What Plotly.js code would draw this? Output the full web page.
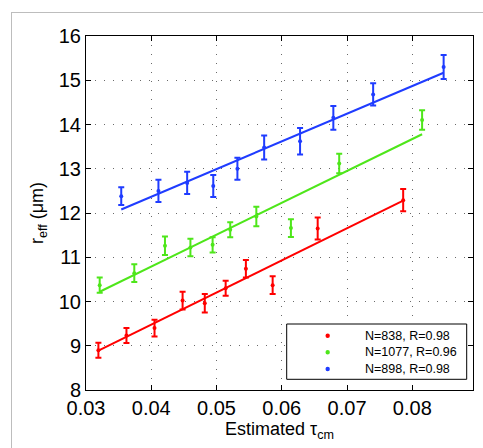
<!DOCTYPE html>
<html>
<head>
<meta charset="utf-8">
<script src="https://cdn.plot.ly/plotly-3.0.1.min.js"></script>
<style>
html,body{margin:0;padding:0;background:#fff;overflow:hidden;}
#frame{position:absolute;left:11px;top:12px;width:600px;height:600px;border-left:1px solid #bdbdbd;border-top:1px solid #bdbdbd;}
#chart{position:absolute;left:0;top:0;width:483px;height:448px;}
</style>
</head>
<body>
<div id="frame"></div>
<div id="chart"></div>
<script>
// Red series (N=838)
const redX = [0.0319,0.0362,0.0405,0.0448,0.0482,0.0514,0.0545,0.0586,0.0655,0.0786];
const redY = [8.90,9.23,9.40,10.02,9.96,10.30,10.74,10.37,11.65,12.29];
const redErr = [0.17,0.17,0.19,0.20,0.21,0.17,0.20,0.20,0.25,0.25];
const redFitX = [0.0319,0.0786];
const redFitY = [8.89,12.28];
// Green series (N=1077)
const greenX = [0.0321,0.0374,0.0421,0.0460,0.0494,0.0521,0.0561,0.0614,0.0688,0.0815];
const greenY = [10.37,10.64,11.26,11.22,11.28,11.62,11.92,11.66,13.12,14.10];
const greenErr = [0.17,0.20,0.21,0.20,0.17,0.17,0.22,0.20,0.22,0.22];
const greenFitX = [0.0321,0.0815];
const greenFitY = [10.22,13.78];
// Blue series (N=898)
const blueX = [0.0354,0.0411,0.0455,0.0495,0.0532,0.0573,0.0628,0.0679,0.0740,0.0848];
const blueY = [12.38,12.50,12.68,12.61,13.00,13.48,13.62,14.15,14.68,15.30];
const blueErr = [0.20,0.25,0.25,0.25,0.25,0.27,0.30,0.27,0.25,0.27];
const blueFitX = [0.0354,0.0848];
const blueFitY = [12.08,15.17];

const names = ['N=838, R=0.98','N=1077, R=0.96','N=898, R=0.98'];
const colors = ['#ff0000','#4ee61a','#1f3cff'];
const xTicks = [0.03,0.04,0.05,0.06,0.07,0.08];
const xTickText = ['0.03','0.04','0.05','0.06','0.07','0.08'];
const yTicks = [8,9,10,11,12,13,14,15,16];

function pts(x,y,e,i){
  return {x:x,y:y,type:'scatter',mode:'markers',name:names[i],showlegend:false,
    marker:{color:colors[i],size:4},
    error_y:{type:'data',array:e,visible:true,color:colors[i],thickness:2,width:3}};
}
function fit(x,y,i){
  return {x:x,y:y,type:'scatter',mode:'lines',showlegend:false,hoverinfo:'skip',
    line:{color:colors[i],width:2}};
}
const data = [
  fit(redFitX,redFitY,0), fit(greenFitX,greenFitY,1), fit(blueFitX,blueFitY,2),
  pts(redX,redY,redErr,0), pts(greenX,greenY,greenErr,1), pts(blueX,blueY,blueErr,2)
];
const font = {family:'"Liberation Sans", Arial, sans-serif',color:'#000'};

// legend box (paper coordinates) and entries
const legRowY = [0.1534,0.1065,0.0593];
const shapes = [{type:'rect',xref:'paper',yref:'paper',x0:0.5186,x1:0.9837,y0:0.0302,y1:0.1864,
    line:{color:'#000',width:1},fillcolor:'#fff',layer:'above'}];
const annotations = [];
names.forEach((n,i)=>{
  shapes.push({type:'circle',xref:'paper',yref:'paper',xsizemode:'pixel',ysizemode:'pixel',
    xanchor:0.6245,yanchor:legRowY[i],x0:-2.2,x1:2.2,y0:-2.2,y1:2.2,
    fillcolor:colors[i],line:{width:0},layer:'above'});
  annotations.push({xref:'paper',yref:'paper',x:0.715,y:legRowY[i],xanchor:'left',yanchor:'middle',
    text:n,showarrow:false,font:{family:font.family,size:12.5,color:'#000'}});
});

const layout = {
  width:483,height:448,
  margin:{l:86,r:10,t:36,b:58},
  paper_bgcolor:'rgba(0,0,0,0)',plot_bgcolor:'#fff',
  font:font,
  showlegend:false,
  shapes:shapes,
  annotations:annotations,
  xaxis:{range:[0.03,0.0893],tickvals:xTicks,ticktext:xTickText,
    ticks:'inside',ticklen:5,tickcolor:'#000',mirror:'ticks',
    showline:true,linecolor:'#000',linewidth:1,
    showgrid:true,gridcolor:'#6a6a6a',gridwidth:1,griddash:'1px,8px',
    zeroline:false,tickfont:{size:20},
    title:{text:'Estimated τ<sub>cm</sub>',font:{size:18},standoff:4}},
  yaxis:{range:[8,16],tickvals:yTicks,
    ticks:'inside',ticklen:5,tickcolor:'#000',mirror:'ticks',
    showline:true,linecolor:'#000',linewidth:1,
    showgrid:true,gridcolor:'#6a6a6a',gridwidth:1,griddash:'1px,8px',
    zeroline:false,tickfont:{size:20},
    title:{text:'r<sub>eff</sub> (μm)',font:{size:18},standoff:10}}
};
Plotly.newPlot('chart',data,layout,{displayModeBar:false,staticPlot:true});
</script>
</body>
</html>
